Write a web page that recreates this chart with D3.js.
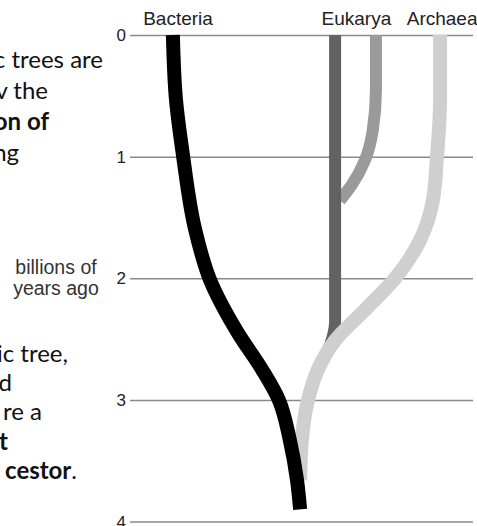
<!DOCTYPE html>
<meta charset="utf-8">
<style>
body { margin: 0; background: #fff; }
svg { display: block; }
.axis .domain { display: none; }
.axis line { stroke: #8a8a8a; stroke-width: 1.5; }
.axis text { font: 17px "Liberation Sans", Arial, sans-serif; fill: #222; }
.head { font: 19px "Liberation Sans", Arial, sans-serif; fill: #222; text-anchor: middle; }
.note { font: 19.5px "Liberation Sans", Arial, sans-serif; fill: #333; text-anchor: middle; }
.slide { font-family: Lato, "Open Sans", sans-serif; font-size: 24px; fill: #111; text-anchor: end; }
.branch { fill: none; stroke-linecap: butt; }
</style>
<body>
<script src="https://d3js.org/d3.v7.min.js"></script>
<script>

var width = 477, height = 526;

// time axis, billions of years ago
var ticks = [0, 1, 2, 3, 4];

// column headers and their lateral position (0-100 across the plot)
var domains = ["Bacteria", "Eukarya", "Archaea"];
var domainPos = [14, 66, 91];

// branches: lateral position (0-100) against time (bn years ago)
var bacteriaX = [12.5, 13.4, 15.5, 19.0, 23.3, 31.5, 38.5, 43.4, 46.6, 48.7, 49.6];
var bacteriaT = [0, 0.53, 1.0, 1.6, 2.01, 2.45, 2.75, 3.0, 3.33, 3.66, 3.9];

var archaeaX = [90.4, 90.4, 89.5, 88.3, 84.5, 77.3, 68.5, 59.8, 54.8, 51.9, 50.1, 49.6];
var archaeaT = [0, 0.53, 1.0, 1.36, 1.69, 2.0, 2.26, 2.51, 2.75, 3.0, 3.33, 3.66];

var eukaryaX = [59.8, 59.8, 59.8, 58.3, 56.0];
var eukaryaT = [0, 1.2, 2.35, 2.55, 2.69];

var eukarya2X = [71.7, 71.7, 70.8, 68.5, 64.7, 61.2];
var eukarya2T = [0, 0.45, 0.78, 1.03, 1.23, 1.36];

// cropped slide text on the left
var textTop = [["c trees are", false], ["v the", false], ["on of", true], ["ng", false]];
var textBottom = [["ic tree,", false], ["d", false], ["re a", false], ["t", true], ["cestor", true, "."]];

var svg = d3.select("body").append("svg")
    .attr("width", width)
    .attr("height", height);

var x = d3.scaleLinear().domain([0, 100]).range([130, 473]);
var y = d3.scaleLinear().domain([0, 4]).range([35, 521.6]);

svg.append("g")
    .attr("class", "axis")
    .attr("transform", "translate(473,0)")
    .call(d3.axisLeft(y).tickValues(ticks).tickSize(343).tickPadding(4).tickFormat(d3.format("d")));

svg.selectAll(".head")
    .data(domains)
  .enter().append("text")
    .attr("class", "head")
    .attr("x", function(d, i) { return x(domainPos[i]); })
    .attr("y", 25)
    .text(function(d) { return d; });

var note = svg.append("text").attr("class", "note");
note.append("tspan").attr("x", 56).attr("y", 274).text("billions of");
note.append("tspan").attr("x", 56).attr("y", 295).text("years ago");

var line = d3.line()
    .x(function(d) { return x(d[0]); })
    .y(function(d) { return y(d[1]); })
    .curve(d3.curveMonotoneY);

function pts(xs, ts) { return xs.map(function(v, i) { return [v, ts[i]]; }); }

var branches = [
  {p: pts(eukarya2X, eukarya2T), c: "#9a9a9a", w: 12},
  {p: pts(eukaryaX, eukaryaT), c: "#626262", w: 12},
  {p: pts(archaeaX, archaeaT), c: "#cfcfcf", w: 14},
  {p: pts(bacteriaX, bacteriaT), c: "#000", w: 14}
];

svg.selectAll(".branch")
    .data(branches)
  .enter().append("path")
    .attr("class", "branch")
    .attr("d", function(d) { return line(d.p); })
    .attr("stroke", function(d) { return d.c; })
    .attr("stroke-width", function(d) { return d.w; });

var topEnds = [103, 48, 49, 19], topBase = [68, 99, 130, 161];
var botEnds = [68, 12, 42, 8, 77], botBase = [362, 391, 420, 450, 479];

function writeLines(rows, ends, bases) {
  rows.forEach(function(r, i) {
    var t = svg.append("text").attr("class", "slide").attr("x", ends[i]).attr("y", bases[i]);
    t.append("tspan").attr("font-weight", r[1] ? "bold" : "normal").text(r[0]);
    if (r[2]) t.append("tspan").text(r[2]);
  });
}
writeLines(textTop, topEnds, topBase);
writeLines(textBottom, botEnds, botBase);

</script>
